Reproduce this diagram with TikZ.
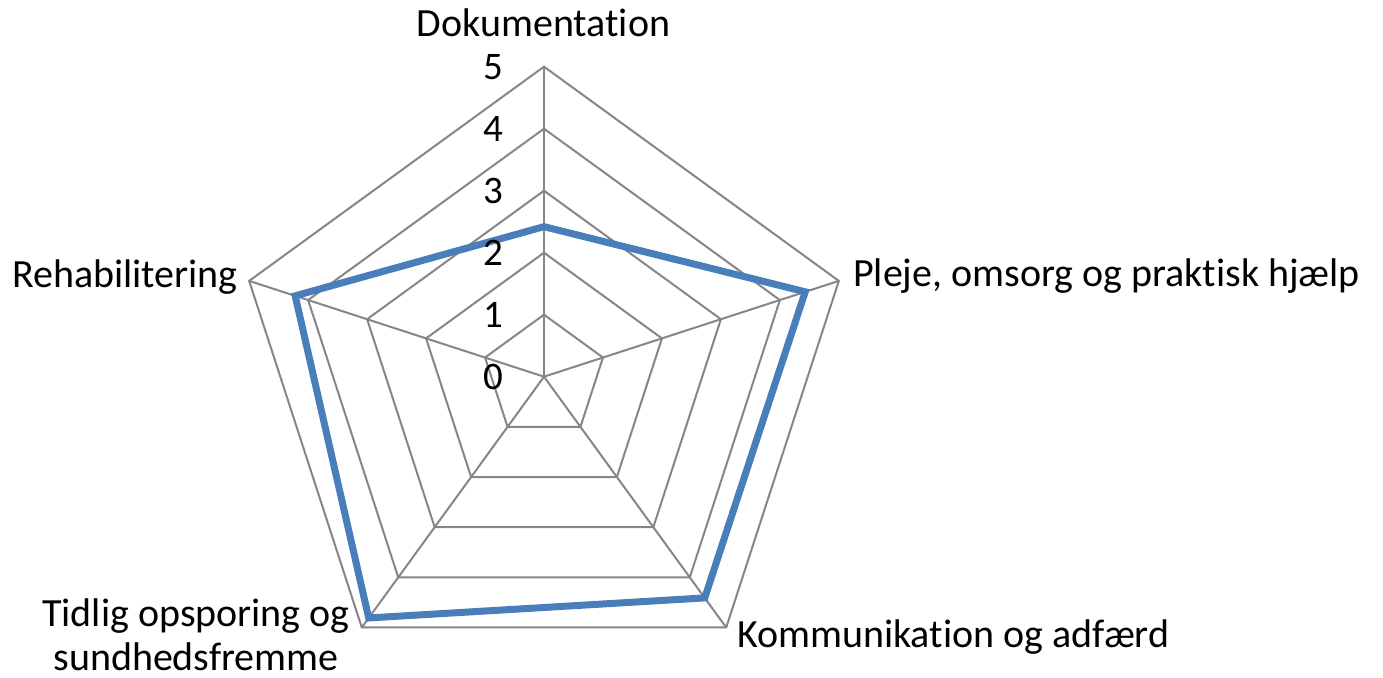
\documentclass[tikz,border=0pt]{standalone}
\usepackage{fontspec}
\setmainfont[Ligatures=NoCommon]{Carlito}
\usetikzlibrary{calc}
\begin{document}
\begin{tikzpicture}[x=1pt,y=1pt,
  grid/.style={draw=gridgray,line width=2pt,line join=miter},
  series/.style={draw=seriesblue,line width=7pt,line join=miter},
  lbl/.style={inner sep=0pt,font=\fontsize{40}{43}\selectfont,text=black},
  num/.style={inner sep=0pt,font=\fontsize{39}{43}\selectfont,text=black,anchor=base east}]
\definecolor{gridgray}{RGB}{134,134,134}
\definecolor{seriesblue}{RGB}{74,126,187}
\useasboundingbox (0,0) rectangle (1383,677);
\coordinate (c) at (544,300.3);
% grid pentagons
\foreach \k in {1,...,5}{
  \draw[grid] ($(c)+(90:62*\k)$) -- ($(c)+(18:62*\k)$) -- ($(c)+(-54:62*\k)$) -- ($(c)+(-126:62*\k)$) -- ($(c)+(162:62*\k)$) -- cycle;
}
\coordinate (vD) at ($(c)+(90:310)$);
\coordinate (vP) at ($(c)+(18:310)$);
\coordinate (vK) at ($(c)+(-54:310)$);
\coordinate (vT) at ($(c)+(-126:310)$);
\coordinate (vR) at ($(c)+(162:310)$);
\foreach \v in {vD,vP,vK,vT,vR}{ \draw[grid] (c) -- (\v); }
% data
\coordinate (dD) at ($(c)+(90:62*2.42)$);
\coordinate (dP) at ($(c)+(18:62*4.43)$);
\coordinate (dK) at ($(c)+(-54:62*4.41)$);
\coordinate (dT) at ($(c)+(-126:62*4.81)$);
\coordinate (dR) at ($(c)+(162:62*4.22)$);
\draw[series] (dD) -- (dP) -- (dK) -- (dT) -- (dR) -- cycle;
% axis numbers
\foreach \k in {0,...,5}{
  \node[num] (n\k) at (503,{300.3+62*\k-13}) {\k};
}
% labels
\node[lbl,anchor=base] (lD) at (543.5,640) {Dokumentation};
\node[lbl,anchor=base west] (lP) at (853,390) {Pleje, omsorg og praktisk hjælp};
\node[lbl,anchor=base west] (lK) at (737,30) {Kommunikation og adfærd};
\node[lbl,anchor=base east] (lR) at (238,389) {Rehabilitering};
\node[lbl,anchor=base,align=center] (lT) at (196,7) {Tidlig opsporing og\\sundhedsfremme};
\end{tikzpicture}
\end{document}
